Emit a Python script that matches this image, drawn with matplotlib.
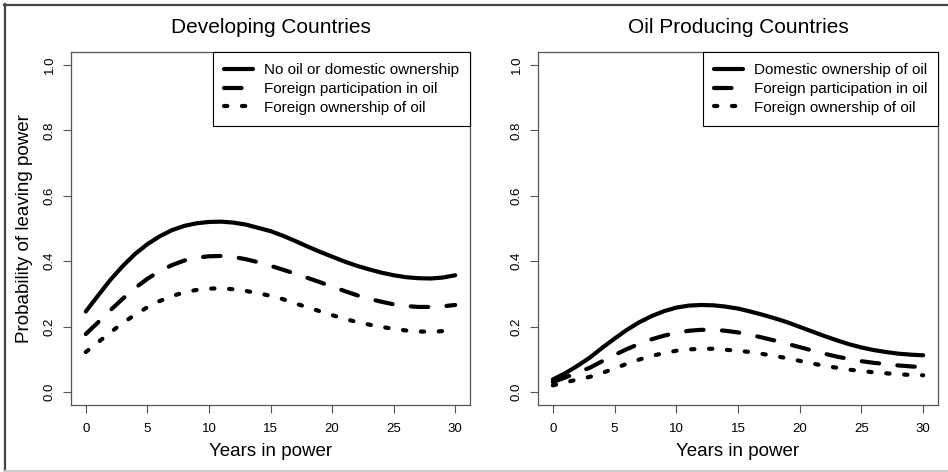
import matplotlib
matplotlib.use('Agg')
import matplotlib.pyplot as plt
from matplotlib.lines import Line2D

plt.rcParams['font.family'] = ['Liberation Sans', 'DejaVu Sans']

years = list(range(0, 31))

dev_none = [0.246, 0.295, 0.343, 0.385, 0.422, 0.452, 0.476, 0.495, 0.508, 0.516,
            0.520, 0.521, 0.518, 0.512, 0.502, 0.492, 0.478, 0.462, 0.445, 0.429,
            0.414, 0.399, 0.386, 0.375, 0.365, 0.357, 0.351, 0.348, 0.347, 0.350, 0.357]
dev_part = [0.177, 0.213, 0.250, 0.285, 0.318, 0.346, 0.370, 0.388, 0.402, 0.411,
            0.415, 0.416, 0.413, 0.406, 0.397, 0.386, 0.374, 0.362, 0.349, 0.336,
            0.322, 0.309, 0.296, 0.285, 0.276, 0.268, 0.263, 0.260, 0.260, 0.262, 0.266]
dev_own = [0.122, 0.152, 0.182, 0.211, 0.236, 0.259, 0.278, 0.293, 0.305, 0.312,
           0.316, 0.317, 0.314, 0.309, 0.302, 0.294, 0.284, 0.271, 0.259, 0.247,
           0.235, 0.224, 0.214, 0.206, 0.199, 0.193, 0.188, 0.185, 0.184, 0.186, 0.189]

oil_dom = [0.038, 0.057, 0.080, 0.105, 0.135, 0.163, 0.190, 0.213, 0.232, 0.247,
           0.258, 0.264, 0.266, 0.265, 0.261, 0.255, 0.246, 0.236, 0.225, 0.213,
           0.199, 0.185, 0.171, 0.158, 0.146, 0.136, 0.128, 0.122, 0.117, 0.114, 0.112]
oil_part = [0.030, 0.044, 0.059, 0.074, 0.094, 0.113, 0.131, 0.147, 0.161, 0.172,
            0.181, 0.187, 0.190, 0.190, 0.187, 0.182, 0.175, 0.166, 0.157, 0.147,
            0.137, 0.127, 0.117, 0.108, 0.101, 0.094, 0.089, 0.085, 0.081, 0.078, 0.076]
oil_own = [0.020, 0.029, 0.038, 0.046, 0.058, 0.072, 0.086, 0.099, 0.110, 0.119,
           0.126, 0.130, 0.132, 0.132, 0.129, 0.126, 0.122, 0.116, 0.110, 0.103,
           0.095, 0.087, 0.080, 0.074, 0.068, 0.064, 0.060, 0.057, 0.054, 0.052, 0.051]

dev_labels = ['No oil or domestic ownership', 'Foreign participation in oil',
              'Foreign ownership of oil']
oil_labels = ['Domestic ownership of oil', 'Foreign participation in oil',
              'Foreign ownership of oil']

x_ticks = [0, 5, 10, 15, 20, 25, 30]
y_ticks = [0.0, 0.2, 0.4, 0.6, 0.8, 1.0]

W, H = 948, 472
fig = plt.figure(figsize=(W / 100, H / 100), dpi=100)

LW = 3.0
SPINE = '#555555'


def panel(rect, title, series, labels, ylabel=None):
    ax = fig.add_axes(rect)
    for i, (vals, lab) in enumerate(zip(series, labels)):
        kw = dict(color='black', lw=LW, solid_capstyle='round',
                  dash_capstyle='round', label=lab)
        if i == 1:
            kw['linestyle'] = (0, (4.2, 4.4))
        elif i == 2:
            kw['linestyle'] = (0, (0.8, 3.5))
        ax.plot(years, vals, **kw)
    ax.set_xlim(-1.2, 31.2)
    ax.set_ylim(-0.04, 1.04)
    ax.set_xticks(x_ticks)
    ax.set_yticks(y_ticks)
    ax.set_yticklabels(['%.1f' % v for v in y_ticks], rotation=90, va='center')
    ax.tick_params(axis='both', direction='out', length=6, width=0.8,
                   color=SPINE, labelsize=9.5)
    ax.tick_params(axis='x', pad=7)
    ax.tick_params(axis='y', pad=5)
    for s in ax.spines.values():
        s.set_color(SPINE)
        s.set_linewidth(0.9)
    ax.set_title(title, fontsize=15, pad=14)
    ax.set_xlabel('Years in power', fontsize=13.5, labelpad=6)
    if ylabel:
        ax.set_ylabel(ylabel, fontsize=13.5, labelpad=8)
    leg = ax.legend(loc='upper right', borderaxespad=0, fancybox=False,
                    edgecolor='black', framealpha=1, fontsize=11,
                    handlelength=1.9, handletextpad=0.7, labelspacing=0.32,
                    borderpad=0.72)
    leg.get_frame().set_linewidth(0.8)
    return ax


panel([71 / W, 67 / H, 399 / W, 353 / H], 'Developing Countries',
      [dev_none, dev_part, dev_own], dev_labels,
      ylabel='Probability of leaving power')
panel([538 / W, 67 / H, 400 / W, 353 / H], 'Oil Producing Countries',
      [oil_dom, oil_part, oil_own], oil_labels)

# outer frame
fig.add_artist(Line2D([4.5 / W, 4.5 / W], [2 / H, 1 - 4 / H], transform=fig.transFigure,
                      color='#444444', lw=1.6))
fig.add_artist(Line2D([4 / W, 1], [1 - 4.5 / H, 1 - 4.5 / H], transform=fig.transFigure,
                      color='#444444', lw=1.6))
fig.add_artist(Line2D([4 / W, 1], [1.5 / H, 1.5 / H], transform=fig.transFigure,
                      color='#cccccc', lw=1.5))

fig.savefig('out.png', dpi=100)
